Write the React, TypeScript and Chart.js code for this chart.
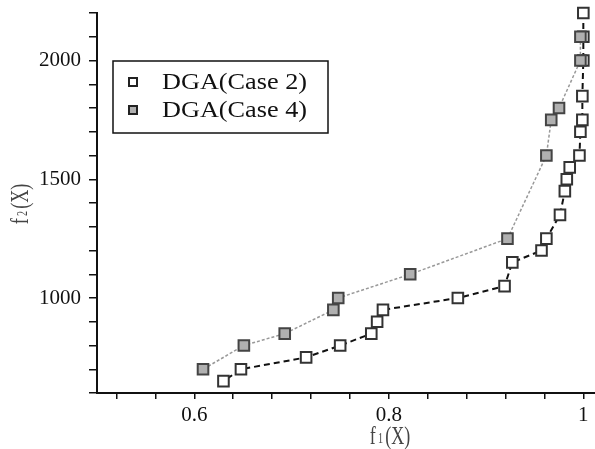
import React, { useEffect, useRef } from "react";
import { Chart, registerables } from "chart.js";

Chart.register(...registerables);

const case2X = [1.0, 1.0, 1.0, 0.999, 0.999, 0.997, 0.996, 0.986, 0.983, 0.981, 0.976, 0.962, 0.957, 0.927, 0.919, 0.871, 0.794, 0.788, 0.782, 0.75, 0.715, 0.648, 0.63];
const case2Y = [2200, 2100, 2000, 1850, 1750, 1700, 1600, 1550, 1500, 1450, 1350, 1250, 1200, 1150, 1050, 1000, 950, 900, 850, 800, 750, 700, 650];
const case4X = [0.997, 0.997, 0.975, 0.967, 0.962, 0.922, 0.822, 0.748, 0.743, 0.693, 0.651, 0.609];
const case4Y = [2100, 2000, 1800, 1750, 1600, 1250, 1100, 1000, 950, 850, 800, 700];

const xTickValues = [0.52, 0.56, 0.6, 0.64, 0.68, 0.72, 0.76, 0.8, 0.84, 0.88, 0.92, 0.96, 1.0];
const xTickLabels = ["", "", "0.6", "", "", "", "", "0.8", "", "", "", "", "1"];
const yTickValues = [600, 700, 800, 900, 1000, 1100, 1200, 1300, 1400, 1500, 1600, 1700, 1800, 1900, 2000, 2100, 2200];
const yTickLabels = ["", "", "", "", "1000", "", "", "", "", "1500", "", "", "", "", "2000", "", ""];

const seriesNames = ["DGA(Case 2)", "DGA(Case 4)"];

const SERIF = "'Liberation Serif', 'Times New Roman', serif";

const overlayPlugin = {
  id: "overlay",
  afterDraw(chart: any) {
    const ctx = chart.ctx as CanvasRenderingContext2D;
    // Legend
    ctx.save();
    const bx = 113, by = 61, bw = 215, bh = 72;
    ctx.fillStyle = "#ffffff";
    ctx.fillRect(bx, by, bw, bh);
    ctx.strokeStyle = "#111";
    ctx.lineWidth = 1.5;
    ctx.strokeRect(bx, by, bw, bh);
    const rows = [
      { y: 82, fill: "#ffffff", text: seriesNames[0] },
      { y: 110, fill: "#b0b0b0", text: seriesNames[1] },
    ];
    rows.forEach((r) => {
      ctx.fillStyle = r.fill;
      ctx.strokeStyle = "#222";
      ctx.lineWidth = 2;
      ctx.fillRect(129, r.y - 4, 8, 8);
      ctx.strokeRect(129, r.y - 4, 8, 8);
      ctx.save();
      ctx.fillStyle = "#111";
      ctx.font = "24px " + SERIF;
      ctx.textBaseline = "middle";
      ctx.textAlign = "left";
      const w = ctx.measureText(r.text).width;
      ctx.translate(162, r.y + 1);
      ctx.scale(145 / w, 1);
      ctx.fillText(r.text, 0, 0);
      ctx.restore();
    });
    ctx.restore();

    // axis titles
    const parts = (sub: string) => [
      { t: "f", size: 25, dy: 0 },
      { t: sub, size: 14, dy: 2 },
      { t: "(X)", size: 25, dy: 0 },
    ];
    const drawTitle = (ps: { t: string; size: number; dy: number }[]) => {
      let x = 0;
      ps.forEach((p) => {
        ctx.font = p.size + "px " + SERIF;
        ctx.fillText(p.t, x, p.dy);
        x += ctx.measureText(p.t).width + 3;
      });
    };
    const measure = (ps: { t: string; size: number }[]) => {
      let w = 0;
      ps.forEach((p) => {
        ctx.font = p.size + "px " + SERIF;
        w += ctx.measureText(p.t).width + 3;
      });
      return w - 3;
    };
    const sx = 0.72;
    ctx.save();
    ctx.fillStyle = "#444";
    ctx.textBaseline = "middle";
    ctx.textAlign = "left";
    const px = parts("1");
    const wx = measure(px) * sx;
    ctx.translate(390 - wx / 2, 437);
    ctx.scale(sx, 1);
    drawTitle(px);
    ctx.restore();

    ctx.save();
    ctx.fillStyle = "#444";
    ctx.textBaseline = "middle";
    ctx.textAlign = "left";
    const py = parts("2");
    const wy = measure(py) * sx;
    ctx.translate(21, 204 + wy / 2);
    ctx.rotate(-Math.PI / 2);
    ctx.scale(sx, 1);
    drawTitle(py);
    ctx.restore();
  },
};

const zeroPad = (axis: any) => {
  axis.paddingTop = 0;
  axis.paddingBottom = 0;
  axis.paddingLeft = 0;
  axis.paddingRight = 0;
};

export default function App() {
  const ref = useRef<HTMLCanvasElement | null>(null);
  useEffect(() => {
    const prevMargin = document.body.style.margin;
    document.body.style.margin = "0";
    if (!ref.current) return;
    const chart = new Chart(ref.current, {
      type: "scatter",
      data: {
        datasets: [
          {
            label: seriesNames[0],
            data: case2X.map((x, i) => ({ x, y: case2Y[i] })),
            showLine: true,
            borderColor: "#111",
            borderWidth: 2,
            borderDash: [6, 4],
            pointStyle: "rect",
            pointRadius: 7.5,
            pointHoverRadius: 7.5,
            pointBackgroundColor: "#ffffff",
            pointBorderColor: "#333",
            pointBorderWidth: 2,
            order: 1,
            clip: false,
          },
          {
            label: seriesNames[1],
            data: case4X.map((x, i) => ({ x, y: case4Y[i] })),
            showLine: true,
            borderColor: "#999",
            borderWidth: 1.5,
            borderDash: [3, 2],
            pointStyle: "rect",
            pointRadius: 7.5,
            pointHoverRadius: 7.5,
            pointBackgroundColor: "#b0b0b0",
            pointBorderColor: "#444",
            pointBorderWidth: 2,
            order: 0,
            clip: false,
          },
        ],
      },
      options: {
        responsive: false,
        animation: false,
        layout: { autoPadding: false, padding: { top: 13, right: 0, left: 0, bottom: 0 } },
        plugins: { legend: { display: false }, tooltip: { enabled: false }, title: { display: false } },
        scales: {
          x: {
            type: "linear",
            min: 0.5,
            max: 1.012,
            afterBuildTicks: (axis: any) => {
              axis.ticks = xTickValues.map((v) => ({ value: v }));
            },
            afterFit: (axis: any) => {
              axis.height = 56;
              zeroPad(axis);
            },
            ticks: {
              autoSkip: false,
              maxRotation: 0,
              padding: 4,
              color: "#111",
              font: { family: SERIF, size: 21 },
              callback: (_v: any, i: number) => xTickLabels[i],
            },
            grid: { drawOnChartArea: false, drawTicks: true, tickLength: 6, color: "#111", lineWidth: 1.5 },
            border: { display: true, color: "#111", width: 2 },
          },
          y: {
            type: "linear",
            min: 600,
            max: 2200,
            afterBuildTicks: (axis: any) => {
              axis.ticks = yTickValues.map((v) => ({ value: v }));
            },
            afterFit: (axis: any) => {
              axis.width = 97;
              zeroPad(axis);
            },
            ticks: {
              autoSkip: false,
              padding: 8,
              color: "#111",
              font: { family: SERIF, size: 21 },
              callback: (_v: any, i: number) => yTickLabels[i],
            },
            grid: { drawOnChartArea: false, drawTicks: true, tickLength: 8, color: "#111", lineWidth: 1.5 },
            border: { display: true, color: "#111", width: 2 },
          },
        },
      },
      plugins: [overlayPlugin],
    } as any);
    return () => {
      chart.destroy();
      document.body.style.margin = prevMargin;
    };
  }, []);
  return (
    <div style={{ position: "fixed", left: 0, top: 0, width: 595, height: 449 }}>
      <canvas ref={ref} width={595} height={449} style={{ display: "block" }} />
    </div>
  );
}
